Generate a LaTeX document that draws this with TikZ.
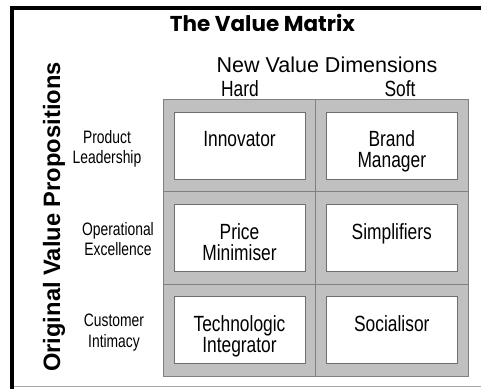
\documentclass[tikz,border=0pt]{standalone}
\usepackage{fontspec}
\setmainfont{Liberation Sans}
\newfontfamily\narrowfont{Liberation Sans}[FakeStretch=0.79]
\newfontfamily\sidefont{Liberation Sans}[FakeStretch=0.77]
\newfontfamily\titlefont{Poppins}
\definecolor{cellgray}{HTML}{C0C0C0}
\definecolor{edgegray}{HTML}{808080}
\definecolor{boxedge}{HTML}{6E6E6E}
\definecolor{basegray}{HTML}{A8A8A8}
\tikzset{
  cell/.style={rectangle, draw=edgegray, fill=cellgray, line width=1pt,
    minimum width=152.5pt, minimum height=92.3pt, inner sep=0pt},
  rolebox/.style={rectangle, draw=boxedge, fill=white, line width=1pt,
    minimum width=131pt, minimum height=67pt, inner sep=0pt},
  roletext/.style={anchor=north, inner sep=0pt, align=center,
    font=\narrowfont\fontsize{22}{21}\selectfont},
  sidetext/.style={anchor=north, inner sep=0pt, align=center,
    font=\sidefont\fontsize{18}{20.5}\selectfont},
  headtext/.style={anchor=base, inner sep=0pt,
    font=\narrowfont\fontsize{22}{21}\selectfont},
  frameline/.style={line width=4pt, black},
}
\begin{document}
\begin{tikzpicture}[x=1pt,y=-1pt]
\useasboundingbox (0,0) rectangle (481,389);
% frame
\coordinate (tl) at (12,8);
\coordinate (tr) at (481,8);
\coordinate (bl) at (12,389);
\coordinate (bl2) at (14,386.7);
\coordinate (br) at (481,386.7);
\draw[basegray, line width=1pt] (bl2) -- (br);
\draw[frameline] (tr) -- (10,8);
\draw[frameline] (tl) -- (bl);
% titles
\node[anchor=base, inner sep=0pt, font=\titlefont\bfseries\fontsize{21.5}{23}\selectfont] (title) at (262.5,31.5) {The Value Matrix};
\node[anchor=base, inner sep=0pt, font=\fontsize{21.5}{22}\selectfont] (newdim) at (327,72.5) {New Value Dimensions};
\node[headtext] (hard) at (240,96) {Hard};
\node[headtext] (soft) at (400,96) {Soft};
\node[anchor=base, inner sep=0pt, rotate=90, font=\bfseries\fontsize{23.7}{24}\selectfont] (orig) at (60,217) {Original Value Propositions};
% grid cells
\node[cell] (c11) at (239.7,145.7) {};
\node[cell] (c12) at (392.2,145.7) {};
\node[cell] (c21) at (239.7,238) {};
\node[cell] (c22) at (392.2,238) {};
\node[cell] (c31) at (239.7,330.3) {};
\node[cell] (c32) at (392.2,330.3) {};
% inner boxes
\node[rolebox] (b11) at (239.5,145.5) {};
\node[rolebox] (b12) at (391.8,145.5) {};
\node[rolebox] (b21) at (239.5,238) {};
\node[rolebox] (b22) at (391.8,238) {};
\node[rolebox] (b31) at (239.5,330) {};
\node[rolebox] (b32) at (391.8,330) {};
\node[roletext] (t11) at ([yshift=-19.2pt]b11.north) {Innovator};
\node[roletext] (t12) at ([yshift=-19.2pt]b12.north) {Brand\\Manager};
\node[roletext] (t21) at ([yshift=-19.2pt]b21.north) {Price\\Minimiser};
\node[roletext] (t22) at ([yshift=-19.2pt]b22.north) {Simplifiers};
\node[roletext] (t31) at ([yshift=-19.2pt]b31.north) {Technologic\\Integrator};
\node[roletext] (t32) at ([yshift=-19.2pt]b32.north) {Socialisor};
% side labels
\node[sidetext] (s1) at (107,130) {Product\\Leadership};
\node[sidetext] (s2) at (118,222) {Operational\\Excellence};
\node[sidetext] (s3) at (114,314) {Customer\\Intimacy};
\end{tikzpicture}
\end{document}
